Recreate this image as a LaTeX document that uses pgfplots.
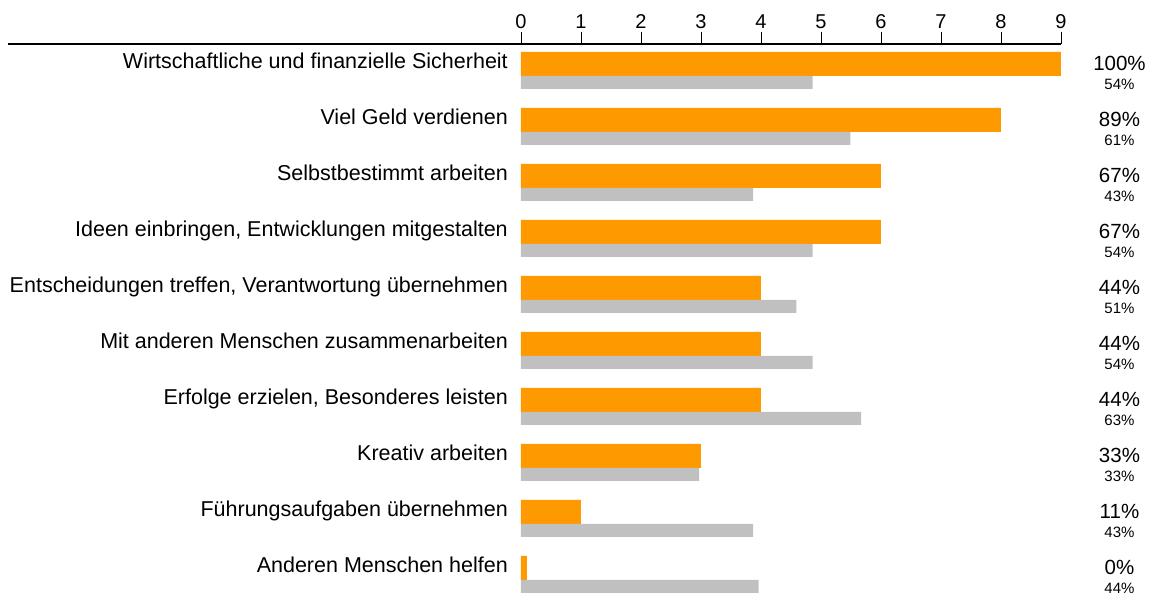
\documentclass[border=0pt]{standalone}
\usepackage{fontspec}
\setmainfont{Liberation Sans}
\usepackage{pgfplots}
\pgfplotsset{compat=1.18}
\definecolor{barorange}{RGB}{255,153,0}
\definecolor{bargray}{RGB}{192,192,192}
\begin{document}
\begin{tikzpicture}
\begin{axis}[
  name=ax,
  scale only axis,
  width=540bp, height=552bp,
  xmin=0, xmax=9, ymin=-0.384, ymax=9.473,
  clip=false,
  axis line style={draw=none},
  xtick={0,...,9},
  xtick pos=upper, xticklabel pos=upper,
  tick align=outside,
  major tick length=12bp,
  x tick style={black, line width=0.9bp},
  xticklabel style={font=\fontsize{20bp}{24bp}\selectfont},
  /pgf/number format/assume math mode=true,
  ytick={0,...,9},
  yticklabels={Anderen Menschen helfen, Führungsaufgaben übernehmen, Kreativ arbeiten, {Erfolge erzielen, Besonderes leisten}, Mit anderen Menschen zusammenarbeiten, {Entscheidungen treffen, Verantwortung übernehmen}, {Ideen einbringen, Entwicklungen mitgestalten}, Selbstbestimmt arbeiten, Viel Geld verdienen, Wirtschaftliche und finanzielle Sicherheit},
  y tick style={draw=none},
  yticklabel style={anchor=base east, inner sep=0pt, xshift=-1bp, yshift=2bp, font=\fontsize{21.5bp}{25bp}\selectfont},
]
\addplot[xbar, bar width=24bp, bar shift=6.5bp, fill=barorange, draw=none] coordinates {
(9,9) (8,8) (6,7) (6,6) (4,5) (4,4) (4,3) (3,2) (1,1) (0.1,0)};
\addplot[xbar, bar width=13bp, bar shift=-12bp, fill=bargray, draw=none] coordinates {
(4.86,9) (5.49,8) (3.87,7) (4.86,6) (4.59,5) (4.86,4) (5.67,3) (2.97,2) (3.87,1) (3.96,0)};
\addplot[only marks, mark=none, nodes near coords, point meta=explicit symbolic,
  every node near coord/.append style={anchor=base, inner sep=0pt, xshift=58.5bp, yshift=0bp, font=\fontsize{20.5bp}{24bp}\selectfont, black}]
coordinates {(9,9)[100\%] (9,8)[89\%] (9,7)[67\%] (9,6)[67\%] (9,5)[44\%] (9,4)[44\%] (9,3)[44\%] (9,2)[33\%] (9,1)[11\%] (9,0)[0\%]};
\addplot[only marks, mark=none, nodes near coords, point meta=explicit symbolic,
  every node near coord/.append style={anchor=base, inner sep=0pt, xshift=58.5bp, yshift=-19.5bp, font=\fontsize{15bp}{18bp}\selectfont, black}]
coordinates {(9,9)[54\%] (9,8)[61\%] (9,7)[43\%] (9,6)[54\%] (9,5)[51\%] (9,4)[54\%] (9,3)[63\%] (9,2)[33\%] (9,1)[43\%] (9,0)[44\%]};
\draw[black, line width=1.2bp] ([xshift=-513bp]axis cs:0,9.473) -- (axis cs:9,9.473);
\end{axis}
\pgfresetboundingbox
\path[use as bounding box] ([shift={(-521bp,44bp)}]ax.north west) rectangle ([shift={(90bp,0bp)}]ax.south east);
\end{tikzpicture}
\end{document}
